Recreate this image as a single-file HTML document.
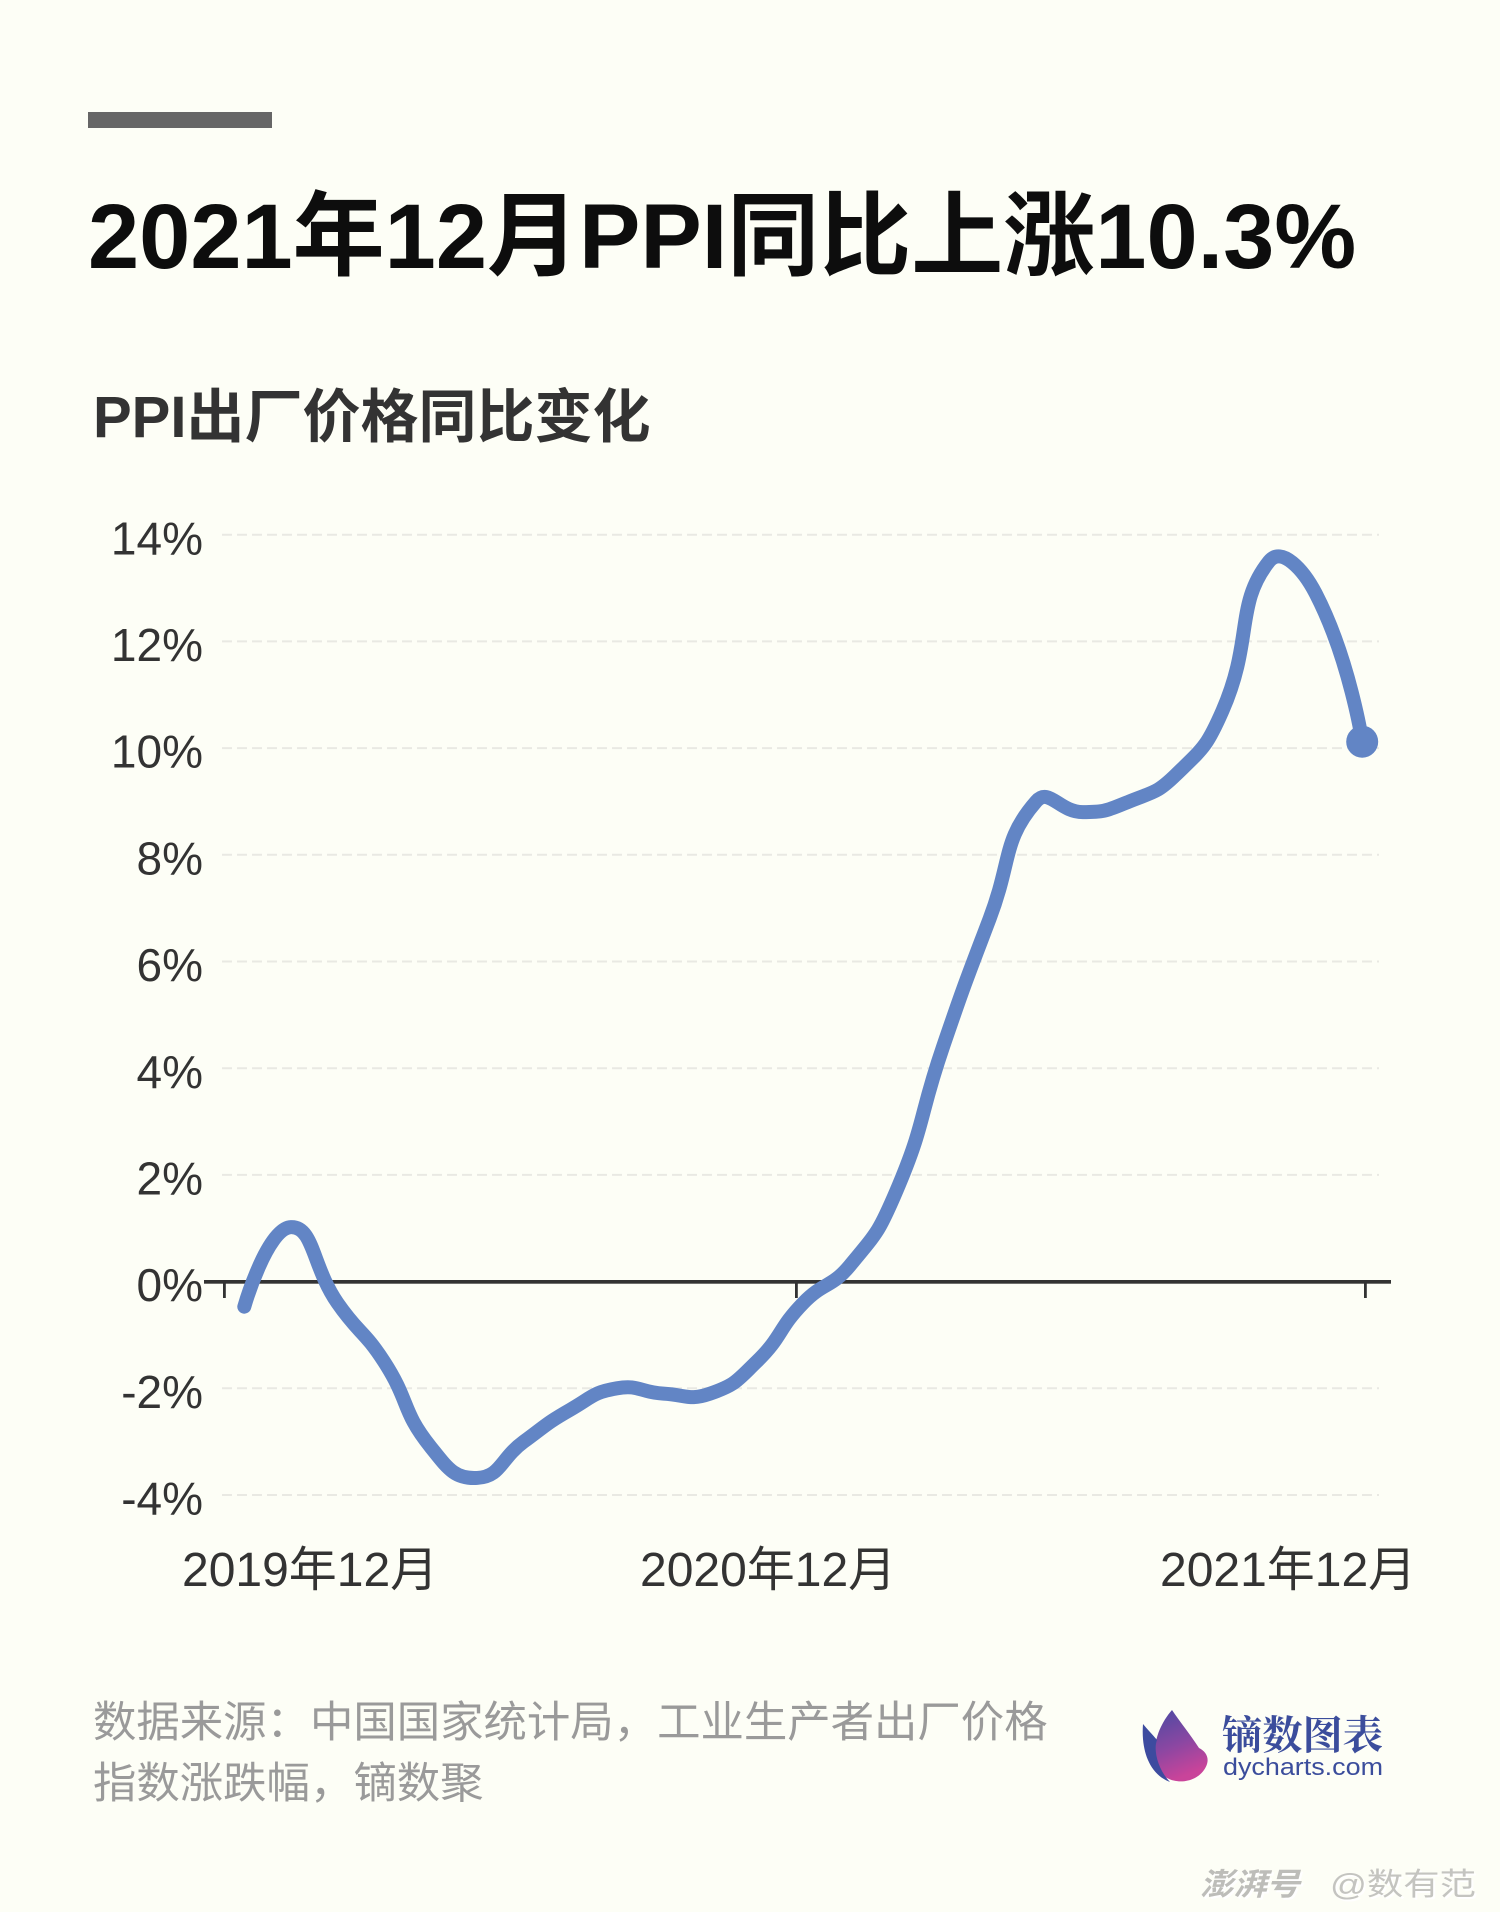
<!DOCTYPE html>
<html>
<head>
<meta charset="utf-8">
<style>
  html,body{margin:0;padding:0;background:#FDFEF6;}
  body{width:1500px;height:1912px;overflow:hidden;position:relative;}
  svg{position:absolute;left:0;top:0;}
  .t{font-family:"Liberation Sans","Noto Sans CJK SC",sans-serif;}
</style>
</head>
<body>
<svg width="1500" height="1912" viewBox="0 0 1500 1912" xmlns="http://www.w3.org/2000/svg">
  <rect x="0" y="0" width="1500" height="1912" fill="#FDFEF6"/>
  <!-- top bar -->
  <rect x="88" y="112" width="184" height="16" fill="#666666"/>
  <!-- title -->
  <text class="t" x="88" y="268" font-size="92" font-weight="bold" fill="#0d0d0d">2021年12月PPI同比上涨10.3%</text>
  <!-- subtitle -->
  <text class="t" x="93" y="437" font-size="58" font-weight="bold" fill="#333333">PPI出厂价格同比变化</text>

  <!-- gridlines -->
  <g stroke="#e9e9e3" stroke-width="2" stroke-dasharray="10 5">
    <line x1="222" y1="534.7" x2="1379" y2="534.7"/>
    <line x1="222" y1="641.4" x2="1379" y2="641.4"/>
    <line x1="222" y1="748.1" x2="1379" y2="748.1"/>
    <line x1="222" y1="854.8" x2="1379" y2="854.8"/>
    <line x1="222" y1="961.5" x2="1379" y2="961.5"/>
    <line x1="222" y1="1068.2" x2="1379" y2="1068.2"/>
    <line x1="222" y1="1174.9" x2="1379" y2="1174.9"/>
    <line x1="222" y1="1388.3" x2="1379" y2="1388.3"/>
    <line x1="222" y1="1495.0" x2="1379" y2="1495.0"/>
  </g>

  <!-- y labels -->
  <g class="t" font-size="46" fill="#333333" text-anchor="end">
    <text x="203" y="554.3">14%</text>
    <text x="203" y="661.0">12%</text>
    <text x="203" y="767.7">10%</text>
    <text x="203" y="874.4">8%</text>
    <text x="203" y="981.1">6%</text>
    <text x="203" y="1087.8">4%</text>
    <text x="203" y="1194.5">2%</text>
    <text x="203" y="1301.2">0%</text>
    <text x="203" y="1407.9">-2%</text>
    <text x="203" y="1514.6">-4%</text>
  </g>

  <!-- x axis -->
  <rect x="204" y="1280" width="1187" height="3.7" fill="#333333"/>
  <rect x="223" y="1282" width="2.8" height="16" fill="#333333"/>
  <rect x="795" y="1282" width="2.8" height="16" fill="#333333"/>
  <rect x="1364" y="1282" width="2.8" height="16" fill="#333333"/>

  <!-- x labels -->
  <g class="t" font-size="48" fill="#333333">
    <text x="182" y="1586">2019年12月</text>
    <text x="640" y="1586">2020年12月</text>
    <text x="1160" y="1586">2021年12月</text>
  </g>

  <!-- series -->
  <path id="series" fill="none" stroke="#6285C5" stroke-width="14" stroke-linecap="round" stroke-linejoin="round"
    d="M244.3,1306.7 L290.9,1227.2 L337.5,1302.9 L384.0,1361.6 L430.6,1447.0 L477.2,1477.9 L523.8,1441.7 L570.4,1409.6 L616.9,1388.3 L663.5,1393.6 L710.1,1393.6 L756.7,1361.6 L803.3,1302.9 L849.8,1265.6 L896.4,1190.9 L943.0,1046.9 L989.6,918.8 L1036.2,801.4 L1082.7,812.1 L1129.3,801.4 L1175.9,774.8 L1222.5,710.8 L1269.1,561.4 L1315.6,593.4 L1362.2,741.7"/>
  <circle cx="1362.2" cy="741.7" r="16" fill="#6285C5"/>

  <!-- source -->
  <g class="t" font-size="43.4" fill="#9a9a9a">
    <text x="93" y="1737">数据来源：中国国家统计局，工业生产者出厂价格</text>
    <text x="93" y="1798">指数涨跌幅，镝数聚</text>
  </g>

  <!-- logo -->
  <defs>
    <linearGradient id="pg" x1="0" y1="0" x2="0.3" y2="1">
      <stop offset="0" stop-color="#4b4aa3"/>
      <stop offset="0.55" stop-color="#8a47a2"/>
      <stop offset="1" stop-color="#c9449a"/>
    </linearGradient>
  </defs>
  <path d="M1172,1710 C1158,1726 1150,1750 1158,1768 C1165,1785 1193,1786 1204,1770 C1211,1760 1207,1752 1199,1748 C1190,1734 1180,1722 1172,1710 Z" fill="url(#pg)"/>
  <path d="M1143,1724 C1141,1750 1149,1774 1170,1782 C1158,1770 1153,1750 1157,1740 C1152,1734 1147,1729 1143,1724 Z" fill="#3d4b9f"/>
  <text x="1222" y="1749" font-size="40" font-weight="bold" fill="#3b4d9c" textLength="161" lengthAdjust="spacingAndGlyphs" font-family="'Noto Serif CJK SC','Noto Sans CJK SC',serif">镝数图表</text>
  <text x="1223" y="1775" font-size="24" fill="#3b4d9c" textLength="160" lengthAdjust="spacingAndGlyphs" font-family="'Liberation Sans',sans-serif">dycharts.com</text>

  <!-- watermark -->
  <g class="t" font-size="31">
    <text x="1202" y="1897" font-weight="bold" font-style="italic" textLength="100" lengthAdjust="spacingAndGlyphs" fill="#ffffff">澎湃号</text>
    <text x="1200" y="1895" font-weight="bold" font-style="italic" textLength="100" lengthAdjust="spacingAndGlyphs" fill="#bdbdb9">澎湃号</text>
    <text x="1332" y="1897" textLength="146" lengthAdjust="spacingAndGlyphs" fill="#ffffff">@数有范</text>
    <text x="1330" y="1895" textLength="146" lengthAdjust="spacingAndGlyphs" fill="#c4c4c0">@数有范</text>
  </g>
</svg>
<script>
(function(){
  var vals=[-0.47,1.02,-0.4,-1.5,-3.1,-3.68,-3.0,-2.4,-2.0,-2.1,-2.1,-1.5,-0.4,0.3,1.7,4.4,6.8,9.0,8.8,9.0,9.5,10.7,13.5,12.9,10.12];
  var xs=[],ys=[];
  for(var i=0;i<vals.length;i++){xs.push(244.3+i*46.58);ys.push(1281.6-vals[i]*53.35);}
  var n=vals.length,s=0.5,cps=[[xs[0],ys[0]]];
  for(var i=1;i<n-1;i++){
    var vx=(xs[i+1]-xs[i-1])*s,vy=(ys[i+1]-ys[i-1])*s;
    var d0=Math.sqrt(Math.pow(xs[i]-xs[i-1],2)+Math.pow(ys[i]-ys[i-1],2));
    var d1=Math.sqrt(Math.pow(xs[i+1]-xs[i],2)+Math.pow(ys[i+1]-ys[i],2));
    var sum=d0+d1; if(sum){d0/=sum;d1/=sum;}
    cps.push([xs[i]-vx*d0,ys[i]-vy*d0]);
    cps.push([xs[i]+vx*d1,ys[i]+vy*d1]);
  }
  cps.push([xs[n-1],ys[n-1]]);
  var d="M"+xs[0].toFixed(2)+","+ys[0].toFixed(2);
  for(var i=0;i<n-1;i++){
    var a=cps[2*i],b=cps[2*i+1];
    d+=" C"+a[0].toFixed(2)+","+a[1].toFixed(2)+" "+b[0].toFixed(2)+","+b[1].toFixed(2)+" "+xs[i+1].toFixed(2)+","+ys[i+1].toFixed(2);
  }
  document.getElementById("series").setAttribute("d",d);
})();
</script>
</body>
</html>
